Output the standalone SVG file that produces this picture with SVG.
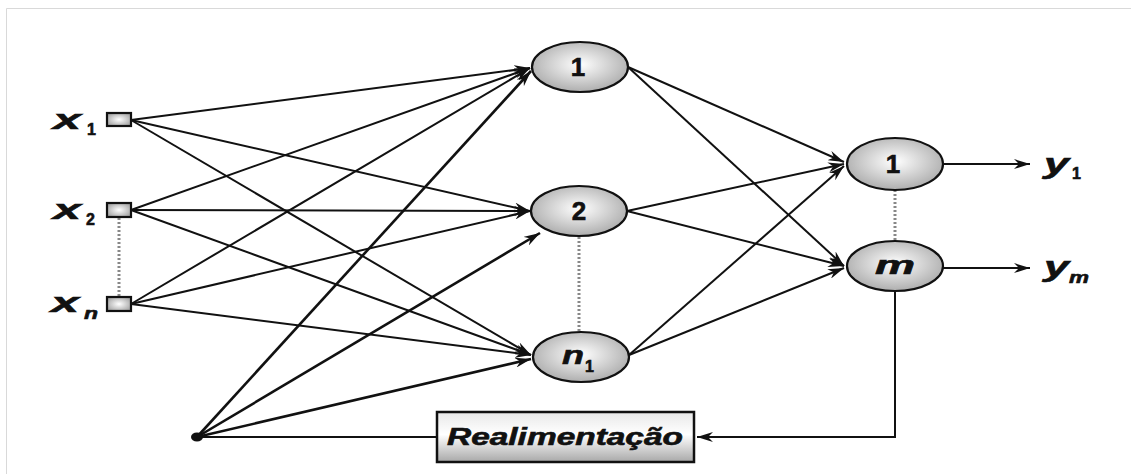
<svg xmlns="http://www.w3.org/2000/svg" width="1131" height="474" viewBox="0 0 1131 474">
<defs>
<radialGradient id="gNode" cx="0.5" cy="0.45" r="0.6">
<stop offset="0" stop-color="#ffffff"/>
<stop offset="1" stop-color="#a6a6a6"/>
</radialGradient>
<radialGradient id="gSq" cx="0.5" cy="0.5" r="0.6">
<stop offset="0" stop-color="#ffffff"/>
<stop offset="1" stop-color="#a0a0a0"/>
</radialGradient>
<linearGradient id="gBox" x1="0" y1="0" x2="0" y2="1">
<stop offset="0" stop-color="#e8e8e8"/>
<stop offset="0.45" stop-color="#ffffff"/>
<stop offset="1" stop-color="#a8a8a8"/>
</linearGradient>
<marker id="arr" viewBox="0 0 16 10" refX="16" refY="5" markerWidth="16" markerHeight="10" markerUnits="userSpaceOnUse" orient="auto">
<path d="M0,0 L16,5 L0,10 L5,5 Z" fill="#111"/>
</marker>
</defs>
<style>
.ln{stroke:#111;stroke-width:2;fill:none}
.lb{stroke:#111;stroke-width:2.6;fill:none}
.dot{stroke:#888;stroke-width:3;stroke-dasharray:2 2;fill:none}
.nd{fill:url(#gNode);stroke:#111;stroke-width:2.2}
.sq{fill:url(#gSq);stroke:#111;stroke-width:2.2}
.t{font-family:"Liberation Sans",Arial,sans-serif;font-weight:bold;fill:#111;stroke:#111;stroke-width:0.6}
.i{font-style:italic}
</style>
<rect x="0" y="0" width="1131" height="474" fill="#ffffff"/>
<path d="M6.5,474 V8.5 H1131" fill="none" stroke="#d9d9d9" stroke-width="1"/>

<g id="connectors">
<line class="ln" x1="131" y1="120" x2="530" y2="68" marker-end="url(#arr)"/>
<line class="ln" x1="131" y1="120" x2="530" y2="211" marker-end="url(#arr)"/>
<line class="ln" x1="131" y1="120" x2="531" y2="355" marker-end="url(#arr)"/>
<line class="ln" x1="131" y1="210" x2="530" y2="68" marker-end="url(#arr)"/>
<line class="ln" x1="131" y1="210" x2="530" y2="211" marker-end="url(#arr)"/>
<line class="ln" x1="131" y1="210" x2="531" y2="355" marker-end="url(#arr)"/>
<line class="ln" x1="131" y1="304" x2="530" y2="68" marker-end="url(#arr)"/>
<line class="ln" x1="131" y1="304" x2="530" y2="211" marker-end="url(#arr)"/>
<line class="ln" x1="131" y1="304" x2="531" y2="355" marker-end="url(#arr)"/>
<line class="lb" x1="197" y1="437" x2="531" y2="71" marker-end="url(#arr)"/>
<line class="lb" x1="197" y1="437" x2="540" y2="233" marker-end="url(#arr)"/>
<line class="lb" x1="197" y1="437" x2="531" y2="359" marker-end="url(#arr)"/>
<line class="ln" x1="197" y1="437" x2="437" y2="437"/>
<line class="ln" x1="628" y1="67" x2="844" y2="162" marker-end="url(#arr)"/>
<line class="ln" x1="628" y1="67" x2="844" y2="266" marker-end="url(#arr)"/>
<line class="ln" x1="627" y1="211" x2="844" y2="164" marker-end="url(#arr)"/>
<line class="ln" x1="627" y1="211" x2="844" y2="266" marker-end="url(#arr)"/>
<line class="ln" x1="629" y1="355" x2="844" y2="166" marker-end="url(#arr)"/>
<line class="ln" x1="629" y1="355" x2="844" y2="268" marker-end="url(#arr)"/>
<line class="ln" x1="943" y1="164" x2="1030" y2="164" marker-end="url(#arr)"/>
<line class="ln" x1="943" y1="268" x2="1030" y2="268" marker-end="url(#arr)"/>
<path class="ln" d="M895,291 V437 H697" marker-end="url(#arr)"/>
<line class="dot" x1="119" y1="218" x2="119" y2="297"/>
<line class="dot" x1="579" y1="237" x2="579" y2="332"/>
<line class="dot" x1="895" y1="190" x2="895" y2="240"/>
</g>

<g id="x1"><rect class="sq" x="107" y="113" width="24" height="13"/><text class="t i" x="53" y="129" font-size="28" textLength="28" lengthAdjust="spacingAndGlyphs">x</text><text class="t" x="87" y="135" font-size="16">1</text></g>
<g id="x2"><rect class="sq" x="107" y="203" width="24" height="14"/><text class="t i" x="53" y="219" font-size="28" textLength="28" lengthAdjust="spacingAndGlyphs">x</text><text class="t" x="86" y="225" font-size="16">2</text></g>
<g id="xn"><rect class="sq" x="107" y="297" width="24" height="14"/><text class="t i" x="51" y="312" font-size="28" textLength="28" lengthAdjust="spacingAndGlyphs">x</text><text class="t i" x="84" y="319" font-size="17" textLength="14" lengthAdjust="spacingAndGlyphs">n</text></g>
<g id="bias"><ellipse cx="197" cy="437" rx="6" ry="4.5" fill="#111"/></g>

<g id="h1"><ellipse class="nd" cx="580" cy="67" rx="48" ry="25"/><text class="t" x="578" y="76" font-size="26" text-anchor="middle">1</text></g>
<g id="h2"><ellipse class="nd" cx="579" cy="211" rx="48" ry="25"/><text class="t" x="579" y="220" font-size="26" text-anchor="middle">2</text></g>
<g id="hn"><ellipse class="nd" cx="581" cy="357" rx="48" ry="25"/><text class="t i" x="562" y="364" font-size="26" textLength="22" lengthAdjust="spacingAndGlyphs">n</text><text class="t" x="585" y="372" font-size="16">1</text></g>

<g id="o1"><ellipse class="nd" cx="895" cy="164" rx="48" ry="26"/><text class="t" x="893" y="173" font-size="26" text-anchor="middle">1</text></g>
<g id="om"><ellipse class="nd" cx="895" cy="266" rx="48" ry="25"/><text class="t i" x="875" y="274" font-size="26" textLength="40" lengthAdjust="spacingAndGlyphs">m</text></g>

<g id="y1"><text class="t i" x="1044" y="173" font-size="28" textLength="25" lengthAdjust="spacingAndGlyphs">y</text><text class="t" x="1072" y="179" font-size="16">1</text></g>
<g id="ym"><text class="t i" x="1044" y="276" font-size="28" textLength="25" lengthAdjust="spacingAndGlyphs">y</text><text class="t i" x="1069" y="283" font-size="17" textLength="20" lengthAdjust="spacingAndGlyphs">m</text></g>

<g id="feedback"><rect x="437" y="412" width="257" height="50" fill="url(#gBox)" stroke="#111" stroke-width="2.5"/><text class="t i" x="447" y="445" font-size="23" textLength="236" lengthAdjust="spacingAndGlyphs" stroke-width="0.4">Realimentação</text></g>
</svg>
